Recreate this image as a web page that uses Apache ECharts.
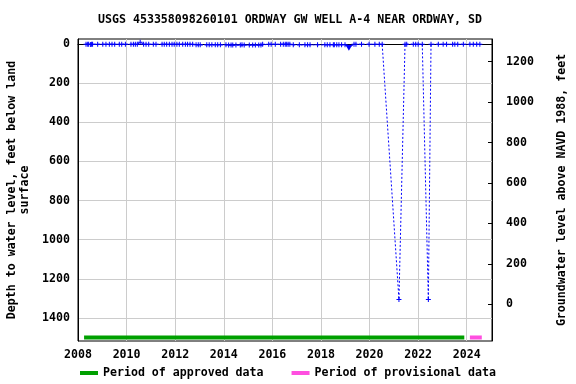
<!DOCTYPE html>
<html><head><meta charset="utf-8">
<script src="https://cdn.jsdelivr.net/npm/echarts@6/dist/echarts.min.js"></script>
<style>html,body{margin:0;padding:0;background:#fff}#c{width:576px;height:384px}</style>
</head><body><div id="c"></div>
<script>
const titleText = 'USGS 453358098260101 ORDWAY GW WELL A-4 NEAR ORDWAY, SD';
const years = [2008.33,2008.40,2008.44,2008.52,2008.56,2008.60,2008.81,2009.02,2009.15,2009.29,2009.40,2009.51,2009.70,2009.80,2009.95,
2010.18,2010.28,2010.36,2010.44,2010.56,2010.70,2010.80,2010.91,2011.10,2011.21,2011.46,2011.55,2011.65,2011.76,2011.87,2011.96,
2012.07,2012.17,2012.31,2012.42,2012.51,2012.61,2012.72,2012.86,2012.95,2013.03,2013.30,2013.40,2013.51,2013.65,2013.75,2013.86,
2014.09,2014.20,2014.30,2014.37,2014.50,2014.68,2014.75,2014.84,2015.05,2015.19,2015.30,2015.44,2015.53,2015.60,2015.85,2015.95,
2016.12,2016.34,2016.45,2016.53,2016.59,2016.65,2016.72,2016.86,2017.11,2017.34,2017.45,2017.55,2017.86,2018.16,2018.26,2018.37,
2018.51,2018.55,2018.65,2018.74,2018.85,2018.99,2019.15,2019.36,2019.44,2019.67,2019.98,2020.22,2020.40,2020.52,2021.21,2021.46,
2021.53,2021.80,2021.90,2022.00,2022.17,2022.42,2022.53,2022.83,2023.03,2023.17,2023.42,2023.51,2023.63,2023.86,2024.13,2024.27,
2024.41,2024.54];
const depths = [1,1,1,2,1,1,1,1,1,1,1,1,1,1,1,
1,1,1,1,-9,1,1,1,1,1,1,1,1,1,1,1,
1,1,1,1,1,1,1,4,4,4,4,4,4,4,4,4,
4,5,5,5,5,5,4,5,5,5,5,5,5,1,1,1,
1,1,1,1,1,1,1,4,4,4,4,4,4,4,4,4,
4,4,4,4,4,4,19,1,1,1,1,1,1,1,1306,1,
1,1,1,1,1,1306,1,1,1,1,1,1,1,1,1,1,
1,1];
const triangleYear = 2019.15;
const approvedPeriod = [2008.25, 2023.9];
const provisionalPeriod = [2024.13, 2024.62];
const periodDepth = 1500;
const xTicks = [2008,2010,2012,2014,2016,2018,2020,2022,2024];
const leftTicks = [0,200,400,600,800,1000,1200,1400];
const rightTicks = [0,200,400,600,800,1000,1200];

const FONT = 'DejaVu Sans Mono';
const plus = 'path://M2,0L3,0L3,2L5,2L5,3L3,3L3,5L2,5L2,3L0,3L0,2L2,2Z';
const pts = years.map((y,i)=>{
  if (y === triangleYear) return {value:[y,depths[i]], symbol:'triangle', symbolRotate:180, symbolSize:[7,6]};
  return [y, depths[i]];
});
const fmt = v => String(Math.round(v));

const chart = echarts.init(document.getElementById('c'), null, {renderer:'canvas'});
chart.setOption({
  animation:false,
  backgroundColor:'#fff',
  title:{text:titleText, left:285, textAlign:'center', top:9,
    textStyle:{fontFamily:FONT, fontSize:11.6, fontWeight:'bold', color:'#000'}},
  legend:{bottom:0, left:75, itemWidth:18, itemHeight:4, itemGap:28, icon:'rect',
    textStyle:{fontFamily:FONT, fontSize:11.6, fontWeight:'bold', color:'#000'},
    data:['Period of approved data','Period of provisional data']},
  grid:{left:78, right:84, top:39, bottom:43, show:true, borderColor:'#000', borderWidth:1,
    containLabel:false, outerBoundsMode:'none'},
  xAxis:{type:'value', min:2008, max:2025.04,
    axisLine:{show:true, lineStyle:{color:'#000'}},
    axisTick:{show:false, customValues:xTicks},
    splitLine:{show:true, lineStyle:{color:'#cccccc', width:1}},
    axisLabel:{customValues:xTicks, margin:8, formatter:fmt,
      fontFamily:FONT, fontSize:11.6, fontWeight:'bold', color:'#000'}},
  yAxis:[
    {type:'value', inverse:true, min:-26, max:1518, position:'left',
      name:'Depth to water level, feet below land\nsurface', nameLocation:'middle', nameGap:46, nameRotate:90,
      nameTextStyle:{fontFamily:FONT, fontSize:11.6, fontWeight:'bold', color:'#000', lineHeight:13},
      axisLine:{show:true, lineStyle:{color:'#000'}},
      axisTick:{show:false, customValues:leftTicks},
      splitLine:{show:true, lineStyle:{color:'#cccccc', width:1}},
      axisLabel:{customValues:leftTicks, margin:8, formatter:fmt, fontFamily:FONT, fontSize:11.6, fontWeight:'bold', color:'#000'}},
    {type:'value', min:-182, max:1312, position:'right',
      name:'Groundwater level above NAVD 1988, feet', nameLocation:'middle', nameGap:64, nameRotate:90,
      nameTextStyle:{fontFamily:FONT, fontSize:11.6, fontWeight:'bold', color:'#000'},
      axisLine:{show:true, lineStyle:{color:'#000'}},
      axisTick:{show:true, inside:true, length:4, customValues:rightTicks, lineStyle:{color:'#000'}},
      splitLine:{show:false},
      axisLabel:{customValues:rightTicks, margin:14, formatter:fmt, fontFamily:FONT, fontSize:11.6, fontWeight:'bold', color:'#000'}}
  ],
  series:[
    {name:'Depth', type:'line', yAxisIndex:0, data:pts, symbol:plus, symbolSize:5, showSymbol:true,
      itemStyle:{color:'#0000ff'}, lineStyle:{color:'#0000ff', width:1, type:[2,2]}, z:5},
    {name:'Period of approved data', type:'line', yAxisIndex:0, symbol:'none',
      data:[[approvedPeriod[0],periodDepth],[approvedPeriod[1],periodDepth]],
      lineStyle:{color:'#00a000', width:4}, itemStyle:{color:'#00a000'}},
    {name:'Period of provisional data', type:'line', yAxisIndex:0, symbol:'none',
      data:[[provisionalPeriod[0],periodDepth],[provisionalPeriod[1],periodDepth]],
      lineStyle:{color:'#ff4fe0', width:4}, itemStyle:{color:'#ff4fe0'}}
  ]
});
</script></body></html>
